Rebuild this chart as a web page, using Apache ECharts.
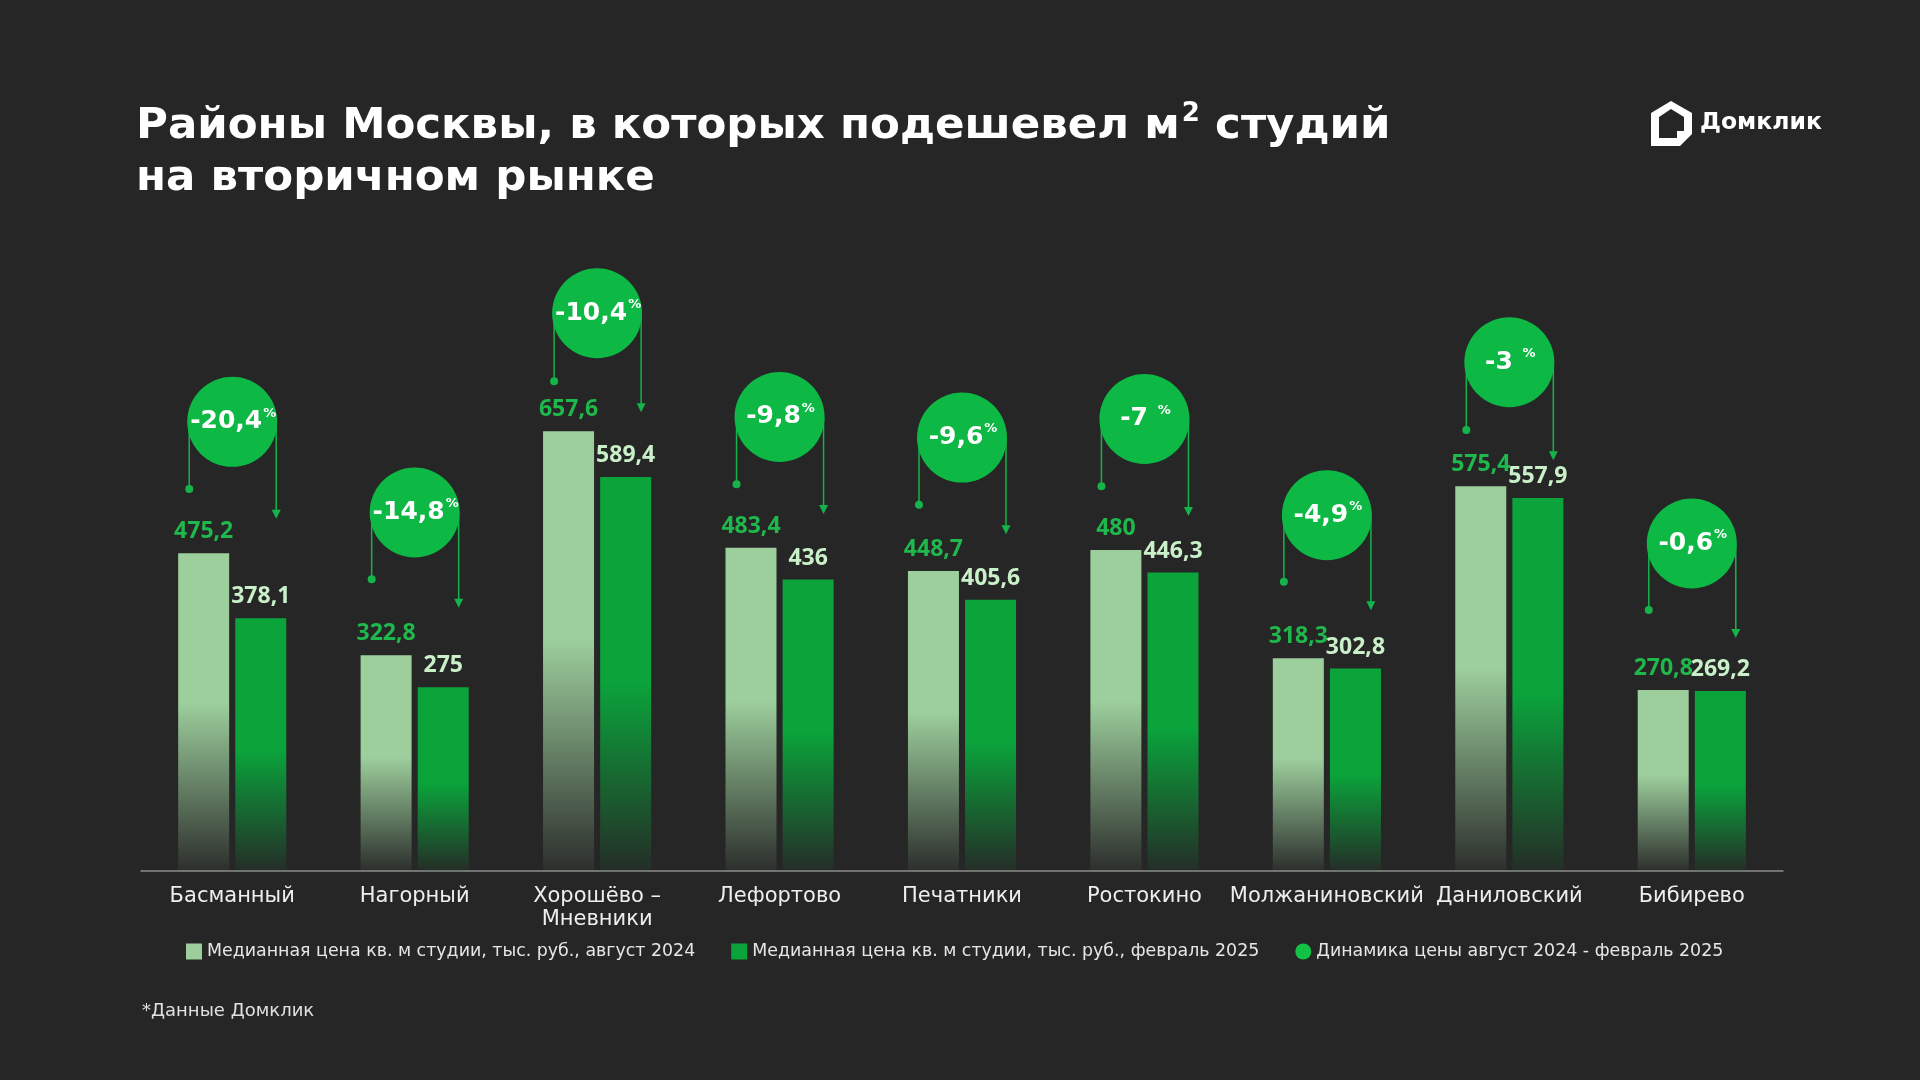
<!DOCTYPE html>
<html>
<head>
<meta charset="utf-8">
<script src="https://cdn.jsdelivr.net/npm/echarts@6/dist/echarts.min.js"></script>
<style>
html,body{margin:0;padding:0;background:#262626;}
#chart{width:1920px;height:1080px;}
</style>
</head>
<body>
<div id="chart"></div>
<script>
const categories = ['Басманный','Нагорный','Хорошёво –\nМневники','Лефортово','Печатники','Ростокино','Молжаниновский','Даниловский','Бибирево'];
const aug2024 = [475.2, 322.8, 657.6, 483.4, 448.7, 480, 318.3, 575.4, 270.8];
const feb2025 = [378.1, 275, 589.4, 436, 405.6, 446.3, 302.8, 557.9, 269.2];
const dynamics = [-20.4, -14.8, -10.4, -9.8, -9.6, -7, -4.9, -3, -0.6];
const seriesNames = [
  'Медианная цена кв. м студии, тыс. руб., август 2024',
  'Медианная цена кв. м студии, тыс. руб., февраль 2025',
  'Динамика цены август 2024 - февраль 2025'
];

const FONT = 'DejaVu Sans';
const NUMFONT = 'Open Sans';
const BG = '#262626';
const LIGHT = '#9dcf9d';
const DARK = '#0aa43b';
const BUBBLE = '#0db845';
const LINEG = '#16b34a';
const fmt = v => String(v).replace('.', ',');
const fmtDyn = v => Number.isInteger(v) ? String(v) + ' ' : String(v).replace('.', ',');

const chart = echarts.init(document.getElementById('chart'), null, {renderer: 'canvas'});

const bubbleData = categories.map((c, i) => [i, Math.max(aug2024[i], feb2025[i]), dynamics[i]]);

const option = {
  backgroundColor: BG,
  animation: false,
  title: {
    left: 131, top: 96,
    text: '{t|Районы Москвы, в которых подешевел м}{s|2}{t| студий}\n{t|на вторичном рынке}',
    textStyle: {
      rich: {
        t: {fontFamily: FONT, fontWeight: 'bold', fontSize: 43.5, color: '#ffffff', lineHeight: 52},
        s: {fontFamily: FONT, fontWeight: 'bold', fontSize: 26, color: '#ffffff', lineHeight: 52, verticalAlign: 'top', padding: [0,0,0,2]}
      }
    }
  },
  legend: {
    left: 181, top: 938,
    itemWidth: 16, itemHeight: 16, itemGap: 36,
    textStyle: {color: '#e6e6e6', fontFamily: FONT, fontSize: 17.4},
    data: [
      {name: seriesNames[0], icon: 'rect', itemStyle: {color: LIGHT}},
      {name: seriesNames[1], icon: 'rect', itemStyle: {color: DARK}},
      {name: seriesNames[2], icon: 'circle', itemStyle: {color: '#12c247'}}
    ]
  },
  grid: {left: 141, right: 137, top: 403, bottom: 209, containLabel: false},
  xAxis: {
    type: 'category',
    data: categories,
    axisLine: {lineStyle: {color: '#8c8c8c', width: 1.5}},
    axisTick: {show: false},
    axisLabel: {interval: 0, color: '#eeeeee', fontFamily: FONT, fontSize: 21, lineHeight: 23, margin: 14}
  },
  yAxis: {
    type: 'value', min: 0, max: 700,
    show: false, splitLine: {show: false}
  },
  series: [
    {
      name: seriesNames[0], type: 'bar', barWidth: 51, barGap: '12%',
      data: aug2024,
      itemStyle: {
        color: new echarts.graphic.LinearGradient(0, 0, 0, 1, [
          {offset: 0, color: LIGHT},
          {offset: 0.47, color: LIGHT},
          {offset: 1, color: 'rgba(157,207,157,0.05)'}
        ])
      },
      label: {show: true, position: 'top', distance: 10, formatter: p => fmt(p.value),
        color: '#1fb84c', fontFamily: NUMFONT, fontWeight: 'bold', fontSize: 23}
    },
    {
      name: seriesNames[1], type: 'bar', barWidth: 51,
      data: feb2025,
      itemStyle: {
        color: new echarts.graphic.LinearGradient(0, 0, 0, 1, [
          {offset: 0, color: DARK},
          {offset: 0.52, color: DARK},
          {offset: 1, color: 'rgba(10,164,59,0.06)'}
        ])
      },
      label: {show: true, position: 'top', distance: 10, formatter: p => fmt(p.value),
        color: '#c9f0c9', fontFamily: NUMFONT, fontWeight: 'bold', fontSize: 23}
    },
    {
      name: seriesNames[2], type: 'custom', clip: false, z: 5,
      itemStyle: {color: '#12c247'},
      encode: {x: 0, y: 1},
      data: bubbleData,
      renderItem: function (params, api) {
        const i = api.value(0);
        const pt = api.coord([i, api.value(1)]);
        const cx = pt[0], ty = pt[1];
        const cy = 0.89 * ty - 70.6;
        const dotY = 0.884 * ty;
        const arrowY = 0.873 * ty + 35.7;
        const lx = cx - 43, rx = cx + 44;
        return {
          type: 'group',
          children: [
            {type: 'line', shape: {x1: lx, y1: cy, x2: lx, y2: dotY}, style: {stroke: LINEG, lineWidth: 1.5}},
            {type: 'circle', shape: {cx: lx, cy: dotY, r: 4}, style: {fill: LINEG}},
            {type: 'line', shape: {x1: rx, y1: cy, x2: rx, y2: arrowY - 8}, style: {stroke: LINEG, lineWidth: 1.5}},
            {type: 'polygon', shape: {points: [[rx - 4.5, arrowY - 9], [rx + 4.5, arrowY - 9], [rx, arrowY]]}, style: {fill: LINEG}},
            {type: 'circle', shape: {cx: cx, cy: cy, r: 45}, style: {fill: BUBBLE}},
            {type: 'text', x: cx + 1, y: cy, style: {
              text: '{v|' + fmtDyn(api.value(2)) + '}{p|%}',
              align: 'center', verticalAlign: 'middle',
              rich: {
                v: {fontFamily: FONT, fontWeight: 'bold', fontSize: 25, fill: '#ffffff', lineHeight: 30},
                p: {fontFamily: FONT, fontWeight: 'bold', fontSize: 13, fill: '#ffffff', lineHeight: 30, verticalAlign: 'top', padding: [0, 0, 0, 1]}
              }
            }}
          ]
        };
      }
    }
  ],
  graphic: [
    {
      type: 'group', left: 1651, top: 101,
      children: [
        {type: 'polygon', shape: {points: [[20,0],[41,12],[41,33],[29,45],[0,45],[0,12]]}, style: {fill: '#ffffff'}},
        {type: 'polygon', shape: {points: [[20,8],[33,16],[33,30],[26,30],[26,37],[8,37],[8,16]]}, style: {fill: BG}},
        {type: 'text', x: 49, y: 22, style: {text: 'Домклик', fill: '#ffffff', fontFamily: FONT, fontWeight: 'bold', fontSize: 23.5, verticalAlign: 'middle'}}
      ]
    },
    {
      type: 'text', left: 142, top: 1002,
      style: {text: '*Данные Домклик', fill: '#e0e0e0', fontFamily: FONT, fontSize: 18}
    }
  ]
};
chart.setOption(option);
</script>
</body>
</html>
